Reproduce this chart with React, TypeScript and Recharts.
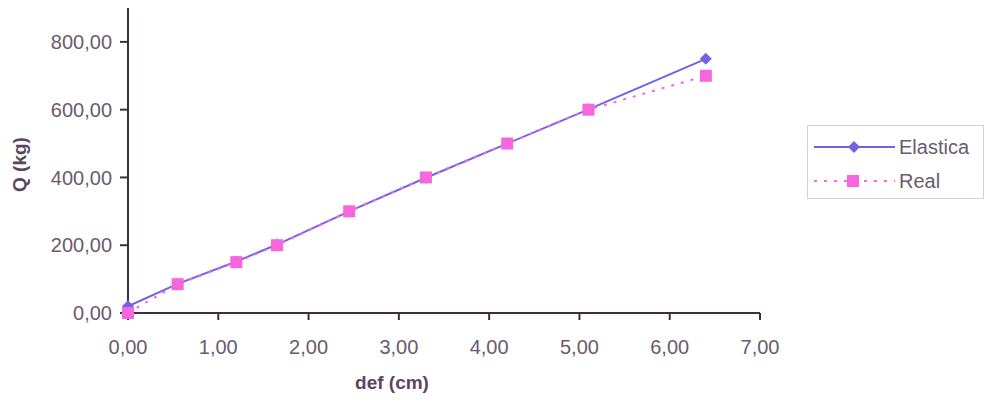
import { LineChart, Line, XAxis, YAxis, Legend } from "recharts";

const defCm = [0, 0.55, 1.2, 1.65, 2.45, 3.3, 4.2, 5.1, 6.4];
const elastica = [20, 86, 152, 202, 300, 399, 500, 601, 750];
const real = [0, 85, 150, 200, 300, 400, 500, 600, 700];
const xTicks = [0, 1, 2, 3, 4, 5, 6, 7];
const yTicks = [0, 200, 400, 600, 800];

const data = defCm.map((d, i) => ({ def: d, elastica: elastica[i], real: real[i] }));

const BLUE = "#7064e4";
const PINK = "#f766dc";
const TEXT = "#6c5a6e";
const AXIS = "#3e2e42";
const FONT = "'Liberation Sans', Arial, sans-serif";

const fmt = (v: number) => v.toFixed(2).replace(".", ",");

const Diamond = (props: any) => {
  const { cx, cy, index } = props;
  if (cx == null || cy == null) return <g key={`d-${index}`} />;
  return (
    <path
      key={`d-${index}`}
      d={`M${cx},${cy - 6}L${cx + 6},${cy}L${cx},${cy + 6}L${cx - 6},${cy}Z`}
      fill={BLUE}
    />
  );
};

const Square = (props: any) => {
  const { cx, cy, index } = props;
  if (cx == null || cy == null) return <g key={`s-${index}`} />;
  return <rect key={`s-${index}`} x={cx - 6} y={cy - 6} width={12} height={12} fill={PINK} />;
};

const LegendBox = () => (
  <div
    style={{
      border: "1px solid #d4d0d4",
      width: 177,
      height: 74,
      boxSizing: "border-box",
      fontFamily: FONT,
      fontSize: 20,
      color: TEXT,
    }}
  >
    <div style={{ display: "flex", alignItems: "center", height: 38, paddingTop: 2 }}>
      <svg width={91} height={14}>
        <line x1={6} y1={7} x2={87} y2={7} stroke={BLUE} strokeWidth={2} />
        <path d="M46,1L52,7L46,13L40,7Z" fill={BLUE} />
      </svg>
      <span>Elastica</span>
    </div>
    <div style={{ display: "flex", alignItems: "center", height: 30 }}>
      <svg width={91} height={14}>
        <line x1={6} y1={7} x2={87} y2={7} stroke={PINK} strokeWidth={2} strokeDasharray="3 7" />
        <rect x={39} y={1} width={12} height={12} fill={PINK} />
      </svg>
      <span>Real</span>
    </div>
  </div>
);

export default function App() {
  return (
    <div style={{ position: "absolute", left: 0, top: 0, background: "#fff" }}>
      <LineChart
        width={994}
        height={402}
        data={data}
        margin={{ top: 8, right: 234, bottom: 0, left: 0 }}
      >
        <XAxis
          type="number"
          dataKey="def"
          domain={[0, 7]}
          ticks={xTicks}
          tickFormatter={fmt}
          stroke={AXIS}
          strokeWidth={2}
          tickSize={7}
          height={89}
          tick={{ fill: TEXT, fontSize: 20, fontFamily: FONT }}
          tickMargin={20}
          label={{
            value: "def (cm)",
            position: "center",
            dx: -52,
            dy: 25,
            fill: "#5a4660",
            fontSize: 19,
            fontWeight: "bold",
            fontFamily: FONT,
          }}
        />
        <YAxis
          type="number"
          domain={[0, 900]}
          ticks={yTicks}
          tickFormatter={fmt}
          stroke={AXIS}
          strokeWidth={2}
          tickSize={8}
          width={128}
          tickMargin={8}
          tick={{ fill: TEXT, fontSize: 20, fontFamily: FONT }}
          label={{
            value: "Q (kg)",
            angle: -90,
            position: "center",
            dx: -45,
            dy: 4,
            fill: "#5a4660",
            fontSize: 19,
            fontWeight: "bold",
            fontFamily: FONT,
          }}
        />
        <Legend
          layout="vertical"
          align="center"
          verticalAlign="middle"
          content={() => <LegendBox />}
          wrapperStyle={{ left: 807, top: 125, width: 177, height: 74 }}
        />
        <Line
          type="linear"
          dataKey="elastica"
          name="Elastica"
          stroke={BLUE}
          strokeWidth={2}
          dot={Diamond}
          activeDot={false}
          isAnimationActive={false}
        />
        <Line
          type="linear"
          dataKey="real"
          name="Real"
          stroke={PINK}
          strokeWidth={2}
          strokeDasharray="3 7"
          dot={Square}
          activeDot={false}
          isAnimationActive={false}
        />
      </LineChart>
    </div>
  );
}
